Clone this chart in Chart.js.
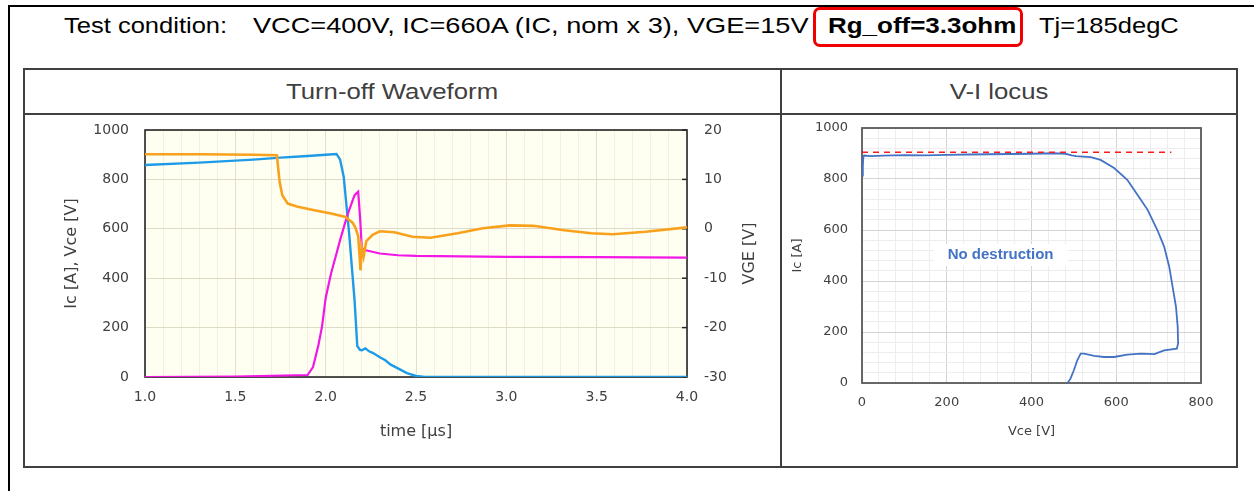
<!DOCTYPE html>
<html>
<head>
<meta charset="utf-8">
<script src="https://cdn.jsdelivr.net/npm/chart.js@4.4.0/dist/chart.umd.min.js"></script>
<style>
  body { margin: 0; width: 1254px; height: 491px; background: #fff; position: relative; overflow: hidden;
         font-family: "Liberation Sans", Arial, sans-serif; }
  .abs { position: absolute; }
  .line { position: absolute; background: #000; }
  .txt { position: absolute; font-size: 22px; line-height: 22px; white-space: nowrap;
         transform: scaleX(1.16); transform-origin: 0 50%; color: #000; }
  .head { position: absolute; font-size: 22px; line-height: 22px; white-space: nowrap; text-align: center;
          transform: scaleX(1.17); transform-origin: 50% 50%; color: #404040; }
  #rgbox { position: absolute; left: 813px; top: 7px; width: 204px; height: 34px;
           border: 3px solid #f00000; border-radius: 7px; }
  canvas { position: absolute; }
</style>
</head>
<body>
<div class="line" style="left:8px;top:5px;width:1246px;height:2px"></div>
<div class="line" style="left:8px;top:5px;width:2px;height:486px"></div>

<div class="txt" style="left:64px;top:15px">Test condition:</div>
<div class="txt" style="left:253px;top:15px;transform:scaleX(1.235)">VCC=400V, IC=660A (IC, nom x 3), VGE=15V</div>
<div id="rgbox"></div>
<div class="txt" style="left:828px;top:15px;font-weight:bold;transform:scaleX(1.18)">Rg_off=3.3ohm</div>
<div class="txt" style="left:1039px;top:15px">Tj=185degC</div>

<!-- table -->
<div class="abs" style="left:23px;top:68px;width:1211px;height:396px;border:2px solid #404040"></div>
<div class="abs" style="left:23px;top:113px;width:1215px;height:2px;background:#404040"></div>
<div class="abs" style="left:780px;top:68px;width:2px;height:400px;background:#404040"></div>
<div class="head" style="left:242px;top:81px;width:300px">Turn-off Waveform</div>
<div class="head" style="left:899px;top:81px;width:200px">V-I locus</div>

<canvas id="waveChart" width="756" height="350" style="left:24px;top:115px"></canvas>
<canvas id="locusChart" width="453" height="350" style="left:783px;top:115px"></canvas>

<script>
// ---- Turn-off waveform data (time in us) ----
const icTime   = [1.0, 1.3, 1.6, 1.75, 1.9, 2.0, 2.06, 2.08, 2.10, 2.13, 2.16, 2.175, 2.19, 2.20, 2.22, 2.24, 2.26, 2.30, 2.33, 2.36, 2.40, 2.45, 2.50, 2.55, 3.0, 3.5, 4.0];
const icValues = [858, 868, 880, 888, 895, 900, 903, 880, 810, 580, 310, 125, 110, 108, 116, 104, 98, 80, 68, 50, 35, 16, 4, 0, 0, 0, 0];

const vceTime   = [1.0, 1.5, 1.9, 1.93, 1.96, 1.98, 2.0, 2.03, 2.06, 2.08, 2.11, 2.13, 2.16, 2.18, 2.19, 2.20, 2.21, 2.24, 2.30, 2.40, 2.50, 3.0, 3.5, 4.0];
const vceValues = [0, 2, 8, 40, 130, 205, 320, 420, 500, 555, 630, 676, 736, 750, 650, 525, 515, 510, 500, 493, 490, 486, 485, 483];

const vgeTime   = [1.0, 1.3, 1.6, 1.73, 1.745, 1.76, 1.79, 1.84, 1.93, 2.03, 2.11, 2.15, 2.165, 2.18, 2.193, 2.20, 2.21, 2.225, 2.26, 2.30, 2.38, 2.48, 2.58, 2.73, 2.87, 3.02, 3.15, 3.32, 3.47, 3.59, 3.77, 4.0];
const vgeValues = [15.1, 15.1, 15.0, 14.9, 9.5, 6.8, 5.1, 4.5, 3.8, 3.1, 2.4, 1.2, 0.2, -1.5, -8.4, -3.8, -5.6, -2.5, -1.2, -0.5, -0.7, -1.6, -1.8, -0.9, 0.1, 0.7, 0.6, -0.3, -0.9, -1.1, -0.6, 0.3];

// ---- V-I locus data ----
const locusVce = [2, 2, 3, 5, 20, 50, 100, 150, 200, 250, 300, 350, 400, 450, 480, 495, 505, 540, 563, 595, 626, 650, 674, 697, 713, 725, 733, 741, 745, 746, 743, 713, 690, 658, 626, 595, 571, 548, 524, 516, 508, 500, 492, 485];
const locusIc  = [810, 850, 885, 892, 890, 892, 894, 893, 895, 896, 897, 898, 899, 901, 899, 893, 890, 886, 875, 843, 797, 738, 679, 600, 535, 456, 377, 299, 220, 155, 135, 128, 113, 115, 111, 102, 102, 106, 115, 115, 89, 50, 17, 0];
const refVce = [0, 730];
const refIc  = [905, 905];

function pts(xs, ys) {
  return xs.map((x, i) => ({ x: x, y: ys[i] }));
}

// fixed axis sizes so the plot areas land where they are in the original
function fixWidth(w) {
  return s => { s.width = w; s.paddingTop = 0; s.paddingBottom = 0; };
}

Chart.defaults.font.family = "'DejaVu Sans', Verdana, sans-serif";
Chart.defaults.color = '#404040';

// background, frame, inward ticks, rotated right title and a note label
const plotDeco = {
  id: 'plotDeco',
  beforeDraw(chart, args, opts) {
    const { ctx, chartArea: a } = chart;
    ctx.save();
    ctx.fillStyle = opts.bg;
    ctx.fillRect(a.left, a.top, a.right - a.left, a.bottom - a.top);
    ctx.restore();
  },
  beforeDatasetsDraw(chart, args, opts) {
    const { ctx, chartArea: a } = chart;
    ctx.save();
    if (opts.note) {
      const x = chart.scales.x.getPixelForValue(opts.note.x);
      const y = chart.scales.y.getPixelForValue(opts.note.y);
      ctx.font = opts.note.font;
      const w = ctx.measureText(opts.note.text).width + 28;
      ctx.fillStyle = '#fff';
      ctx.fillRect(x - w / 2, y - 11, w, 22);
      ctx.fillStyle = opts.note.color;
      ctx.textAlign = 'center';
      ctx.textBaseline = 'middle';
      ctx.fillText(opts.note.text, x, y);
    }
    if (opts.sideTicks) {
      const s = chart.scales[opts.sideTicks];
      ctx.strokeStyle = opts.frame;
      ctx.lineWidth = 1.5;
      s.ticks.forEach(t => {
        const y = s.getPixelForValue(t.value);
        ctx.beginPath();
        ctx.moveTo(a.right - 5, y);
        ctx.lineTo(a.right, y);
        ctx.stroke();
      });
      // right axis title, read bottom to top
      ctx.translate(s.right - opts.sideTitleOffset, (a.top + a.bottom) / 2);
      ctx.rotate(-Math.PI / 2);
      ctx.font = "16px 'DejaVu Sans', Verdana, sans-serif";
      ctx.fillStyle = '#404040';
      ctx.textAlign = 'center';
      ctx.textBaseline = 'middle';
      ctx.fillText(opts.sideTitle, 0, 0);
      ctx.setTransform(1, 0, 0, 1, 0, 0);
    }
    ctx.strokeStyle = opts.frame;
    ctx.lineWidth = opts.frameWidth;
    ctx.strokeRect(a.left, a.top, a.right - a.left, a.bottom - a.top);
    ctx.restore();
  }
};

// Turn-off waveform
new Chart(document.getElementById('waveChart'), {
  type: 'line',
  data: {
    datasets: [
      { label: 'VGE', data: pts(vgeTime, vgeValues), yAxisID: 'y2', borderColor: '#F8A11C', borderWidth: 2.6 },
      { label: 'Vce', data: pts(vceTime, vceValues), yAxisID: 'y', borderColor: '#F217E6', borderWidth: 2.2 },
      { label: 'Ic', data: pts(icTime, icValues), yAxisID: 'y', borderColor: '#1E9BE8', borderWidth: 2.4 }
    ]
  },
  options: {
    responsive: false,
    animation: false,
    elements: { point: { radius: 0 }, line: { tension: 0 } },
    layout: { padding: { top: 15, left: 0, right: 0, bottom: 0 } },
    plugins: {
      legend: { display: false },
      tooltip: { enabled: false },
      plotDeco: { bg: '#FFFFF1', frame: '#262626', frameWidth: 1.6, sideTicks: 'y2', sideTitle: 'VGE [V]', sideTitleOffset: 30 }
    },
    scales: {
      x: {
        type: 'linear', min: 1, max: 4,
        afterFit: s => { s.height = 88; },
        border: { display: false },
        grid: {
          drawTicks: false,
          color: c => (Math.round(c.tick.value * 10) % 5 === 0 ? '#E3DFC9' : '#F2F0DE'),
          lineWidth: 1
        },
        ticks: {
          stepSize: 0.1, autoSkip: false, maxRotation: 0, padding: 12,
          font: { size: 14 },
          callback: v => (Math.round(v * 10) % 5 === 0 ? (Math.round(v * 10) / 10).toFixed(1) : '')
        },
        title: { display: true, text: 'time [µs]', font: { size: 16 }, color: '#404040', padding: { bottom: 24 } }
      },
      y: {
        position: 'left', min: 0, max: 1000,
        afterFit: fixWidth(121),
        border: { display: false },
        grid: { drawTicks: false, color: '#DEDAC5' },
        ticks: { stepSize: 200, padding: 16, font: { size: 14 }, callback: v => String(v) },
        title: { display: true, text: 'Ic [A], Vce [V]', font: { size: 16 }, color: '#404040', padding: { top: 38 } }
      },
      y2: {
        position: 'right', min: -30, max: 20,
        afterFit: fixWidth(93),
        border: { display: false },
        grid: { display: false, drawTicks: false },
        ticks: { stepSize: 10, padding: 17, font: { size: 14 }, callback: v => String(v) }
      }
    }
  },
  plugins: [plotDeco]
});

// V-I locus
new Chart(document.getElementById('locusChart'), {
  type: 'scatter',
  data: {
    datasets: [
      { label: 'ref', data: pts(refVce, refIc), showLine: true, borderColor: '#FF1A1A', borderWidth: 1.5, borderDash: [6, 5] },
      { label: 'locus', data: pts(locusVce, locusIc), showLine: true, borderColor: '#4472C4', borderWidth: 1.8 }
    ]
  },
  options: {
    responsive: false,
    animation: false,
    elements: { point: { radius: 0 }, line: { tension: 0 } },
    layout: { padding: { top: 13, left: 0, right: 35, bottom: 0 } },
    plugins: {
      legend: { display: false },
      tooltip: { enabled: false },
      plotDeco: {
        bg: '#FFFFFF', frame: '#5A5A5A', frameWidth: 1.8,
        note: { text: 'No destruction', x: 327, y: 502, color: '#4472C4', font: "bold 15px 'Liberation Sans', Arial, sans-serif" }
      }
    },
    scales: {
      x: {
        type: 'linear', min: 0, max: 800,
        afterFit: s => { s.height = 82; },
        border: { display: false },
        grid: { drawTicks: false, color: c => (c.tick.value % 200 === 0 ? '#D3D3D3' : '#EDEDED') },
        ticks: { stepSize: 40, autoSkip: false, maxRotation: 0, padding: 12, font: { size: 13 },
                 callback: v => (v % 200 === 0 ? String(v) : '') },
        title: { display: true, text: 'Vce [V]', font: { size: 13 }, color: '#404040', padding: { bottom: 26 } }
      },
      y: {
        type: 'linear', min: 0, max: 1000,
        afterFit: fixWidth(79),
        border: { display: false },
        grid: { drawTicks: false, color: c => (c.tick.value % 200 === 0 ? '#D3D3D3' : '#EDEDED') },
        ticks: { stepSize: 40, autoSkip: false, padding: 14, font: { size: 13 },
                 callback: v => (v % 200 === 0 ? String(v) : '') },
        title: { display: true, text: 'Ic [A]', font: { size: 13 }, color: '#404040', padding: { top: 7 } }
      }
    }
  },
  plugins: [plotDeco]
});
</script>
</body>
</html>
